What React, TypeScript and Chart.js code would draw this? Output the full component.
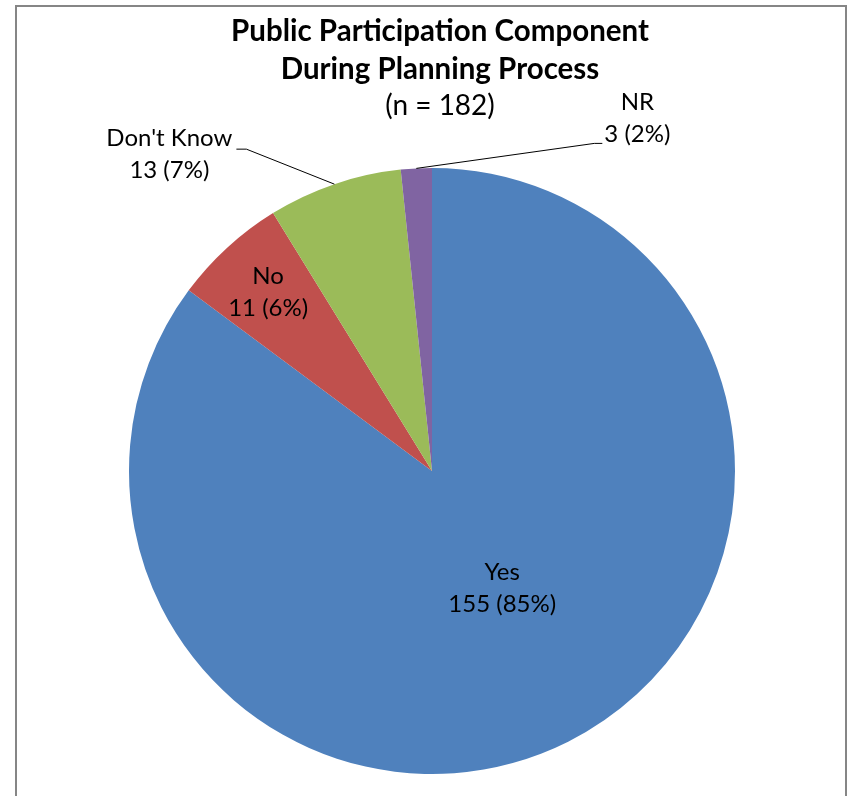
import React, { useEffect, useRef } from "react";
import { Chart, registerables } from "chart.js";

Chart.register(...registerables);

const categories = ["Yes", "No", "Don't Know", "NR"];
const counts = [155, 11, 13, 3];
const percents = ["85%", "6%", "7%", "2%"];
const colors = ["#4F81BD", "#C0504D", "#9BBB59", "#8064A2"];
const titleLines = ["Public Participation Component", "During Planning Process"];
const subtitle = "(n = 182)";

const FONT = "Lato, 'Open Sans', sans-serif";

const framePlugin = {
  id: "frame",
  beforeDraw(chart: any) {
    const ctx = chart.ctx;
    ctx.save();
    ctx.fillStyle = "#ffffff";
    ctx.fillRect(0, 0, chart.width, chart.height);
    ctx.strokeStyle = "#868686";
    ctx.lineWidth = 2;
    ctx.beginPath();
    ctx.moveTo(16, chart.height);
    ctx.lineTo(16, 6);
    ctx.lineTo(846, 6);
    ctx.lineTo(846, chart.height);
    ctx.stroke();
    ctx.restore();
  },
};

const titlePlugin = {
  id: "customTitle",
  afterDraw(chart: any) {
    const ctx = chart.ctx;
    ctx.save();
    ctx.fillStyle = "#000";
    ctx.textAlign = "center";
    ctx.textBaseline = "middle";
    ctx.font = `bold 29.5px ${FONT}`;
    ctx.fillText(titleLines[0], 440, 31);
    ctx.fillText(titleLines[1], 440, 69);
    ctx.font = `28px ${FONT}`;
    ctx.fillText(subtitle, 440, 106);
    ctx.restore();
  },
};

// label placement styles: inside (radial fraction) or outside (elbow offset from edge)
const labelStyle: any[] = [
  { type: "in", f: 0.45, da: -0.075 },
  { type: "in", f: 0.8, da: 0 },
  { type: "out", dx: -88, dy: -35, side: "left" },
  { type: "out", dx: 178, dy: -25, side: "right" },
];

const labelPlugin = {
  id: "sliceLabels",
  afterDatasetsDraw(chart: any) {
    const ctx = chart.ctx;
    const meta = chart.getDatasetMeta(0);
    ctx.save();
    ctx.font = `24px ${FONT}`;
    ctx.fillStyle = "#000";
    ctx.textBaseline = "middle";
    meta.data.forEach((arc: any, i: number) => {
      const { x, y, startAngle, endAngle, outerRadius } = arc.getProps(
        ["x", "y", "startAngle", "endAngle", "outerRadius"],
        true
      );
      const mid = (startAngle + endAngle) / 2;
      const st = labelStyle[i];
      const l1 = categories[i];
      const l2 = `${counts[i]} (${percents[i]})`;
      if (st.type === "in") {
        const a = mid + st.da;
        const cx = x + Math.cos(a) * outerRadius * st.f;
        const cy = y + Math.sin(a) * outerRadius * st.f;
        ctx.textAlign = "center";
        ctx.fillText(l1, cx, cy - 16);
        ctx.fillText(l2, cx, cy + 16);
      } else {
        const ex = x + Math.cos(mid) * outerRadius;
        const ey = y + Math.sin(mid) * outerRadius;
        const bx = ex + st.dx;
        const by = ey + st.dy;
        ctx.strokeStyle = "#000";
        ctx.lineWidth = 1;
        ctx.beginPath();
        ctx.moveTo(ex, ey);
        ctx.lineTo(bx, by);
        const hx = st.side === "left" ? bx - 10 : bx + 8;
        ctx.lineTo(hx, by);
        ctx.stroke();
        ctx.textAlign = "center";
        if (st.side === "left") {
          const cx = hx - 4 - ctx.measureText(l1).width / 2;
          ctx.fillText(l1, cx, by - 11);
          ctx.fillText(l2, cx, by + 21);
        } else {
          const cx = hx + 2 + ctx.measureText(l2).width / 2;
          ctx.fillText(l1, cx, by - 41);
          ctx.fillText(l2, cx, by - 9);
        }
      }
    });
    ctx.restore();
  },
};

export default function App() {
  const ref = useRef<HTMLCanvasElement>(null);
  useEffect(() => {
    if (!ref.current) return;
    const chart = new Chart(ref.current, {
      type: "pie",
      data: {
        labels: categories,
        datasets: [
          {
            data: counts,
            backgroundColor: colors,
            borderWidth: 0,
          },
        ],
      },
      options: {
        animation: false,
        responsive: false,
        layout: { padding: { left: 128, right: 116, top: 168, bottom: 22 } },
        plugins: {
          legend: { display: false },
          tooltip: { enabled: false },
          title: { display: false },
        },
      },
      plugins: [framePlugin, titlePlugin, labelPlugin],
    });
    return () => chart.destroy();
  }, []);
  return (
    <div style={{ position: "absolute", left: 0, top: 0, width: 852, height: 796 }}>
      <canvas ref={ref} width={852} height={796} style={{ width: 852, height: 796 }} />
    </div>
  );
}
